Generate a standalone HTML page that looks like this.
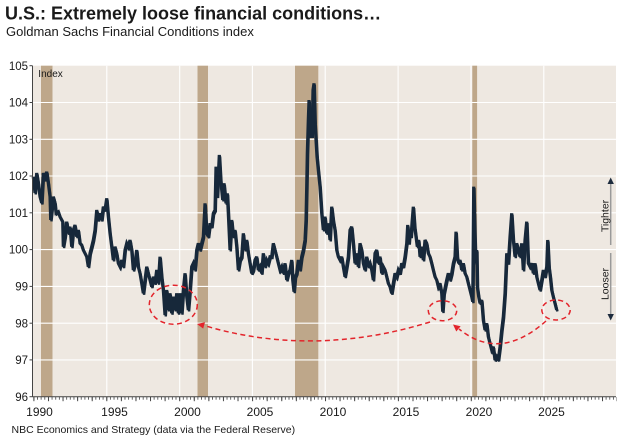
<!DOCTYPE html>
<html>
<head>
<meta charset="utf-8">
<style>
  html,body{margin:0;padding:0;background:#ffffff;}
  body{width:626px;height:441px;overflow:hidden;}
  svg{display:block;}
  text{font-family:"Liberation Sans",Arial,sans-serif;fill:#1a1a1a;}
</style>
</head>
<body>
<svg width="626" height="441" viewBox="0 0 626 441" xmlns="http://www.w3.org/2000/svg">
  <defs>
    <pattern id="minorTicks" patternUnits="userSpaceOnUse" x="33.4" y="396.7" width="3.645" height="4">
      <rect x="0" y="0" width="0.9" height="3" fill="#555"/>
    </pattern>
    <pattern id="majorTicks" patternUnits="userSpaceOnUse" x="33.4" y="396.7" width="14.58" height="5">
      <rect x="0" y="0" width="1" height="4.5" fill="#444"/>
    </pattern>
    <polyline id="series" fill="none" stroke-linejoin="miter" stroke-miterlimit="3"
    points="33.3,176.7 35,193 36.7,173 38.3,183 40,196.7 41.7,203 43.3,173 45,180 46.7,171.7 48.3,183 50,196.7 50.7,220 53.3,196.7 55,203 56,213 58.3,211.7 60,216.7 62.7,221.7 63.3,246.7 65,236.7 66.7,221.7 68.3,233.3 70,226.7 71.7,246.7 73.3,230 75,225 76.7,236.7 78.3,230 80,243.3 81.7,245 83.3,250 85,253.3 86.7,256.7 88.3,266.7 90,253.3 91.7,246.7 93.3,240 95,230 96.7,210 98.3,220 100,213.3 101.7,220 103.3,206.7 105,210 106.7,198.3 108.3,216.7 110,233.3 111.7,246.7 113.3,260 115,246.7 116.7,253.3 118.3,263.3 120,266.7 121.7,260 123.3,266.7 125,250 126.7,243.3 128.3,246.7 130,240 131.7,250 133.3,270 135,263.3 136.7,250 138.3,266.7 140,273.3 141.7,283.3 143.3,293.3 145,280 146.7,266.7 148.3,273.3 150,280 151.7,286.7 153.3,276.7 155,283.3 156.7,270 158.3,283.3 160,256.7 161.7,276.7 163.3,290 165,315 166.7,290 168.3,310 170,293.3 171.7,313.3 173.3,296.7 175,310 176.7,293.3 178.3,313.3 180,293.3 181.7,313.3 183.3,290 185,273.3 186.7,296.7 188.3,310 190,290 191.7,266.7 193.3,263.3 195,270 196.7,250 198.3,243.3 200,250 203.3,236.7 205,203.3 206.7,233.3 208.3,236.7 210,223.3 211.7,226.7 213.3,213.3 215,210 216,166.7 217.3,196.7 219.3,155 220.7,180 222.7,200 224,183.3 226,203.3 227.3,193.3 228.3,213.3 230,250 231.7,220 233.3,236.7 235,230 236.7,246.7 238.3,270 240,260 241.7,256.7 243.3,233.3 245,250 246.7,240 248.3,253.3 250,263.3 251.7,273.3 253.3,270 255,260 256.7,256.7 258.3,270 260,266.7 261.7,273.3 263.3,253.3 265,266.7 266.7,260 268.3,263.3 270,256.7 271.7,256.7 273.3,243.3 275,250 276.7,256.7 278.3,263.3 280,270 281.7,266.7 283.3,273.3 285,263.3 286.7,280 288.3,273.3 290,270 291.7,260 292.7,280 294,291.7 295.3,276.7 296.7,273.3 298.3,260 300,270 301.7,256.7 303.3,250 305,240 306,220 306.7,186.7 307.3,153.3 308.3,120 309,100 310,136.7 311,116.7 312,136.7 313,90 314,83.3 315,123.3 316,140 317,156.7 318.3,170 320,186.7 321.7,213.3 323.3,230 325,216.7 326.7,233.3 328.3,223.3 330,240 331.7,206.7 333.3,220 335,230 336.7,250 338.3,256.7 340,260 341.7,256.7 343.3,266.7 345,276.7 346.7,266.7 348.3,256.7 350,230 351.7,226.7 353.3,243.3 355,263.3 356.7,253.3 358.3,266.7 360,243.3 361.7,250 363.3,263.3 365,270 366.7,256.7 368.3,266.7 370,263.3 371.7,270 373.3,280 375,253.3 376.7,250 378.3,263.3 380,256.7 381.7,273.3 383.3,266.7 385,270 386.7,276.7 388.3,283.3 390,286.7 391.7,293.3 393.3,283.3 395,273.3 396.7,276.7 398.3,270 400,273.3 401.7,263.3 403.3,266.7 405,256.7 406.7,243.3 407.7,225 409,243.3 410,230 411,236.7 412,223.3 413.3,206.7 414.7,226.7 416,236.7 417.3,246.7 418.7,240 420,256.7 421.7,246.7 423.3,260 425,240 426.7,243.3 428.3,253.3 430,256.7 431.7,263.3 433.3,270 435,276.7 436.7,280 438.3,286.7 440,283.3 441.7,293.3 442.7,311.7 444,293.3 445.3,286.7 446.7,280 448.3,273.3 450,280 451.7,273.3 453.3,263.3 455,256.7 456,231.7 457.3,256.7 458.7,263.3 460,260 461.7,270 463.3,263.3 465,273.3 466.7,276.7 468.3,283.3 470,290 471.7,296.7 472.7,301.7 473.7,186.7 474.7,230 475.7,263.3 476.7,250 477.3,286.7 478.7,296.7 480,303.3 481.7,300 483.3,320 485,330 486.7,323.3 488.3,336.7 490,343.3 491.7,350 493.3,346.7 495,360 496.7,356.7 498.3,360 500,346.7 501.7,330 503.3,316.7 505,293.3 506.7,253.3 508.3,263.3 510,236.7 511.7,213.3 513.3,240 515,256.7 516.7,243.3 518.3,250 520,256.7 521.7,243.3 523.3,270 525,240 526.7,221.7 528.3,263.3 530,266.7 531.7,263.3 533.3,273.3 535,263.3 536.7,276.7 538.3,283.3 540,290 541.7,280 543.3,270 545,276.7 546.7,266.7 547.7,240 549,266.7 550.3,276.7 551.7,290 553.3,296.7 555,303.3 556.7,310"/>
  </defs>

  <!-- Title -->
  <text x="5" y="19.5" font-size="18" font-weight="bold" fill="#000">U.S.: Extremely loose financial conditions…</text>
  <text x="6" y="36" font-size="13" fill="#111">Goldman Sachs Financial Conditions index</text>

  <!-- Plot background -->
  <rect x="33" y="65.7" width="583" height="331" fill="#eee8e1"/>

  <!-- Recession bars -->
  <g fill="#bea78a">
    <rect x="41" y="65.7" width="11.5" height="331"/>
    <rect x="197.5" y="65.7" width="10.5" height="331"/>
    <rect x="295" y="65.7" width="23.3" height="331"/>
    <rect x="472.3" y="65.7" width="4.8" height="331"/>
  </g>

  <!-- Gridlines -->
  <g stroke="#ffffff" stroke-width="1.1">
    <line x1="33" y1="102.5" x2="616" y2="102.5"/>
    <line x1="33" y1="139.3" x2="616" y2="139.3"/>
    <line x1="33" y1="176.0" x2="616" y2="176.0"/>
    <line x1="33" y1="212.8" x2="616" y2="212.8"/>
    <line x1="33" y1="249.6" x2="616" y2="249.6"/>
    <line x1="33" y1="286.4" x2="616" y2="286.4"/>
    <line x1="33" y1="323.2" x2="616" y2="323.2"/>
    <line x1="33" y1="359.9" x2="616" y2="359.9"/>
    <line x1="106.8" y1="65.7" x2="106.8" y2="396.7"/>
    <line x1="179.7" y1="65.7" x2="179.7" y2="396.7"/>
    <line x1="252.4" y1="65.7" x2="252.4" y2="396.7"/>
    <line x1="325.2" y1="65.7" x2="325.2" y2="396.7"/>
    <line x1="398.1" y1="65.7" x2="398.1" y2="396.7"/>
    <line x1="471.0" y1="65.7" x2="471.0" y2="396.7"/>
    <line x1="543.8" y1="65.7" x2="543.8" y2="396.7"/>
  </g>

  <!-- Index label -->
  <text x="38.3" y="77" font-size="10" fill="#222">Index</text>

  <!-- Series (two slightly offset strokes to mimic noisy daily band) -->
  <use href="#series" stroke="#17283a" stroke-width="3.2"/>
  <use href="#series" stroke="#17283a" stroke-width="2.4" transform="translate(0.8,1.4)"/>

  <!-- Red dashed annotations -->
  <g fill="none" stroke="#e3242b" stroke-width="1.5" stroke-dasharray="5,3.5">
    <ellipse cx="173.3" cy="304.7" rx="24" ry="19.5"/>
    <ellipse cx="442.5" cy="310.7" rx="14.2" ry="10"/>
    <ellipse cx="556" cy="310" rx="14.2" ry="10"/>
    <path d="M430,322 Q313,358 204,325.5"/>
    <path d="M546,321 Q500,362 459,329"/>
  </g>
  <g fill="#e3242b">
    <polygon points="197,324 205,322.2 203.2,328.6"/>
    <polygon points="453,324.5 460.6,326.3 456.3,331.5"/>
  </g>

  <!-- Right-side Tighter / Looser annotation -->
  <g stroke="#9a9a9a" stroke-width="1.5">
    <line x1="610.7" y1="183" x2="610.7" y2="245"/>
    <line x1="610.7" y1="253" x2="610.7" y2="315"/>
  </g>
  <g fill="#1d2b3d">
    <polygon points="610.7,177.5 607.5,184 613.9,184"/>
    <polygon points="610.7,320.5 607.5,314 613.9,314"/>
  </g>
  <text transform="translate(608.5,216) rotate(-90)" text-anchor="middle" font-size="10.5" fill="#222">Tighter</text>
  <text transform="translate(608.5,284) rotate(-90)" text-anchor="middle" font-size="10.5" fill="#222">Looser</text>

  <!-- Axes -->
  <line x1="32.5" y1="65.7" x2="32.5" y2="397" stroke="#444" stroke-width="1"/>
  <line x1="32.5" y1="396.7" x2="616" y2="396.7" stroke="#444" stroke-width="1"/>
  <g stroke="#444" stroke-width="1">
    <line x1="29.5" y1="65.7" x2="32.5" y2="65.7"/>
    <line x1="29.5" y1="102.5" x2="32.5" y2="102.5"/>
    <line x1="29.5" y1="139.3" x2="32.5" y2="139.3"/>
    <line x1="29.5" y1="176.0" x2="32.5" y2="176.0"/>
    <line x1="29.5" y1="212.8" x2="32.5" y2="212.8"/>
    <line x1="29.5" y1="249.6" x2="32.5" y2="249.6"/>
    <line x1="29.5" y1="286.4" x2="32.5" y2="286.4"/>
    <line x1="29.5" y1="323.2" x2="32.5" y2="323.2"/>
    <line x1="29.5" y1="359.9" x2="32.5" y2="359.9"/>
    <line x1="29.5" y1="396.7" x2="32.5" y2="396.7"/>
  </g>
  <rect x="33" y="397" width="583" height="3" fill="url(#minorTicks)"/>
  <rect x="33" y="397" width="584" height="4.5" fill="url(#majorTicks)"/>

  <!-- Y labels -->
  <g font-size="11.5" text-anchor="end">
    <text x="28" y="69.8">105</text>
    <text x="28" y="106.6">104</text>
    <text x="28" y="143.4">103</text>
    <text x="28" y="180.1">102</text>
    <text x="28" y="216.9">101</text>
    <text x="28" y="253.7">100</text>
    <text x="28" y="290.5">99</text>
    <text x="28" y="327.3">98</text>
    <text x="28" y="364.0">97</text>
    <text x="28" y="400.8">96</text>
  </g>

  <!-- X labels -->
  <g font-size="12" text-anchor="middle">
    <text x="39.5" y="416">1990</text>
    <text x="114.5" y="416">1995</text>
    <text x="187.5" y="416">2000</text>
    <text x="260" y="416">2005</text>
    <text x="333" y="416">2010</text>
    <text x="406" y="416">2015</text>
    <text x="479" y="416">2020</text>
    <text x="551.5" y="416">2025</text>
  </g>

  <!-- Source -->
  <text x="11.5" y="433" font-size="10.5" fill="#222">NBC Economics and Strategy (data via the Federal Reserve)</text>
</svg>
</body>
</html>
